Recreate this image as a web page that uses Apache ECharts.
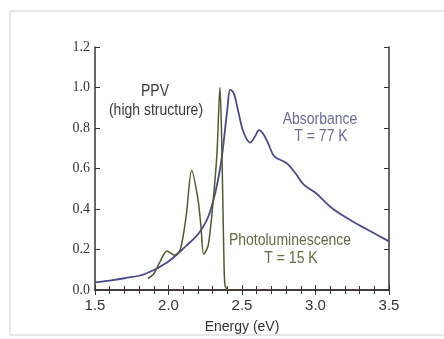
<!DOCTYPE html>
<html>
<head>
<meta charset="utf-8">
<script src="https://cdn.jsdelivr.net/npm/echarts@6/dist/echarts.min.js"></script>
<style>
  html, body { margin: 0; padding: 0; background: #fff; }
  #chart { width: 444px; height: 339px; }
</style>
</head>
<body>
<div id="chart"></div>
<script>
// absorbance, T = 77 K  [energy eV, normalized]
const absEnergy = [1.50, 1.60, 1.70, 1.84, 1.99, 2.12, 2.21, 2.28, 2.35, 2.40, 2.42, 2.445, 2.475, 2.51, 2.555, 2.59, 2.615, 2.645, 2.68, 2.72, 2.80, 2.86, 2.92, 3.00, 3.12, 3.26, 3.39, 3.50]
const absValue  = [0.038, 0.046, 0.058, 0.079, 0.136, 0.218, 0.284, 0.38, 0.595, 0.89, 0.99, 0.97, 0.88, 0.78, 0.728, 0.76, 0.79, 0.77, 0.72, 0.66, 0.628, 0.58, 0.52, 0.48, 0.40, 0.336, 0.284, 0.24]

// photoluminescence, T = 15 K
const plEnergy = [1.86, 1.90, 1.94, 1.99, 2.04, 2.08, 2.12, 2.158, 2.20, 2.22, 2.24, 2.27, 2.305, 2.33, 2.35, 2.36, 2.37, 2.378, 2.385, 2.40]
const plValue  = [0.056, 0.08, 0.136, 0.193, 0.172, 0.20, 0.365, 0.59, 0.45, 0.32, 0.177, 0.22, 0.45, 0.68, 1.0, 0.80, 0.42, 0.12, 0.02, 0.0]

const xTicks = [1.5, 2.0, 2.5, 3.0, 3.5]
const yTicks = [0.0, 0.2, 0.4, 0.6, 0.8, 1.0, 1.2]

const frameColor = '#3b3232'
const sansFont = '"Liberation Sans", Arial, sans-serif'

function pairs(xs, ys) {
    return xs.map((x, i) => [x, ys[i]])
}

// annotation text, a bit taller than wide like the scanned figure
function label(text, x, y, color) {
    return {
        type: 'text', x: x, y: y, scaleY: 1.15,
        style: { text: text, fill: color, font: '14px ' + sansFont, align: 'center', verticalAlign: 'middle' }
    }
}

const chart = echarts.init(document.getElementById('chart'))
const option = {
    animation: false,
    grid: {
        left: 95,
        right: 55,
        top: 47,
        bottom: 48,
    },
    xAxis: [{
        type: 'value',
        min: xTicks[0],
        max: xTicks[xTicks.length - 1],
        interval: 0.5,
        position: 'bottom',
        axisLine: { lineStyle: { color: frameColor, width: 1.5 } },
        axisTick: { inside: true, length: 5, lineStyle: { color: frameColor } },
        minorTick: { show: true, splitNumber: 5, length: 4, lineStyle: { color: frameColor } },
        splitLine: { show: false },
        axisLabel: {
            margin: 8,
            color: '#333',
            fontSize: 15,
            fontFamily: sansFont,
            formatter: (v) => v.toFixed(1)
        },
        name: 'Energy (eV)',
        nameLocation: 'middle',
        nameGap: 30,
        nameTextStyle: { color: '#333', fontSize: 14, fontFamily: sansFont }
    }, {
        type: 'value',
        min: xTicks[0],
        max: xTicks[xTicks.length - 1],
        interval: 0.5,
        position: 'top',
        axisLine: { lineStyle: { color: frameColor, width: 1.5 } },
        axisTick: { inside: true, length: 5, lineStyle: { color: frameColor } },
        minorTick: { show: true, splitNumber: 5, length: 4, lineStyle: { color: frameColor } },
        splitLine: { show: false },
        axisLabel: { show: false }
    }],
    yAxis: [{
        type: 'value',
        min: yTicks[0],
        max: yTicks[yTicks.length - 1],
        interval: 0.2,
        position: 'left',
        axisLine: { show: true, lineStyle: { color: frameColor, width: 1.5 } },
        axisTick: { show: true, inside: true, length: 5, lineStyle: { color: frameColor } },
        splitLine: { show: false },
        axisLabel: {
            margin: 5,
            color: '#333',
            fontSize: 14,
            fontFamily: '"Liberation Serif", "Times New Roman", serif',
            formatter: (v) => v.toFixed(1)
        }
    }, {
        type: 'value',
        min: yTicks[0],
        max: yTicks[yTicks.length - 1],
        interval: 0.2,
        position: 'right',
        axisLine: { show: true, lineStyle: { color: frameColor, width: 1.5 } },
        axisTick: { show: true, inside: true, length: 5, lineStyle: { color: frameColor } },
        splitLine: { show: false },
        axisLabel: { show: false }
    }],
    series: [{
        name: 'Absorbance',
        type: 'line',
        data: pairs(absEnergy, absValue),
        smooth: 0.35,
        showSymbol: false,
        lineStyle: { color: '#4a4a8c', width: 1.8 }
    }, {
        name: 'Photoluminescence',
        type: 'line',
        data: pairs(plEnergy, plValue),
        smooth: 0.3,
        showSymbol: false,
        lineStyle: { color: '#4e5a2e', width: 1.5 }
    }],
    graphic: [{
        type: 'rect',
        shape: { x: 10, y: 11, width: 440, height: 324 },
        style: { fill: 'none', stroke: '#cfcfcf', lineWidth: 1 },
        silent: true
    },
        label('PPV', 155, 92, '#3a3a3a'),
        label('(high structure)', 156, 111, '#3a3a3a'),
        label('Absorbance', 320, 120, '#6b6a9c'),
        label('T = 77 K', 321, 137, '#6b6a9c'),
        label('Photoluminescence', 290, 241, '#646a44'),
        label('T = 15 K', 291, 259, '#646a44')
    ]
}
chart.setOption(option)
</script>
</body>
</html>
